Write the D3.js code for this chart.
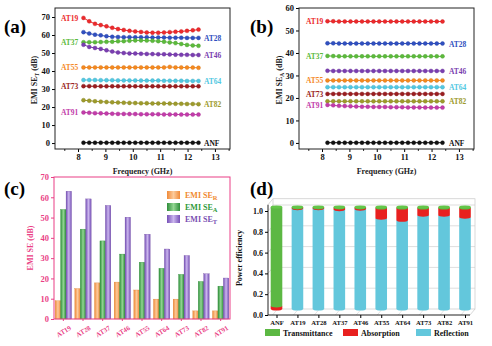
<!DOCTYPE html>
<html>
<head>
<meta charset="utf-8">
<script src="https://cdn.jsdelivr.net/npm/d3@7"></script>
<style>
body { margin: 0; background: #fff; }
svg { display: block; }
text { font-family: "Liberation Serif", "DejaVu Serif", serif; font-weight: bold; }
</style>
</head>
<body>
<svg id="fig" width="492" height="346"></svg>
<script>
// ---- data ----
const freq = [8.2, 8.41, 8.62, 8.83, 9.04, 9.25, 9.46, 9.67, 9.88, 10.09, 10.3, 10.51, 10.72, 10.93, 11.14, 11.35, 11.56, 11.77, 11.98, 12.19, 12.4];
const samples = ["AT19", "AT28", "AT37", "AT46", "AT55", "AT64", "AT73", "AT82", "AT91", "ANF"];
const sampleColors = ["#ec2a2c", "#3050c0", "#5cba3c", "#7a3eb0", "#f5891f", "#52c8e2", "#9a1e20", "#9d9a2c", "#c23caa", "#111111"];
const labelSide = ["left", "right", "left", "right", "left", "right", "left", "right", "left", "right"];

// (a) EMI SE_T
const seT_AT19 = [69.5, 67.6, 66.2, 65.5, 64.8, 64.0, 63.3, 62.8, 62.3, 62.0, 61.7, 61.4, 61.3, 61.3, 61.4, 61.6, 61.8, 62.0, 62.3, 62.6, 63.0];
const seT_AT28 = [61.6, 60.8, 60.2, 59.8, 59.3, 59.0, 58.9, 58.8, 58.8, 58.7, 58.7, 58.7, 58.6, 58.6, 58.6, 58.5, 58.5, 58.5, 58.4, 58.4, 58.4];
const seT_AT37 = [56.0, 56.0, 56.0, 56.1, 56.2, 56.3, 56.5, 56.6, 56.8, 57.0, 57.0, 56.9, 56.8, 56.6, 56.3, 55.9, 55.5, 55.0, 54.5, 54.2, 54.0];
const seT_AT46 = [54.6, 53.4, 52.8, 52.3, 51.5, 50.8, 50.3, 50.0, 49.8, 49.7, 49.6, 49.5, 49.4, 49.3, 49.3, 49.2, 49.1, 49.0, 49.0, 48.9, 48.9];
const seT_AT55 = [42.0, 42.0, 42.0, 42.0, 42.0, 42.0, 42.0, 42.0, 42.0, 42.0, 42.0, 42.0, 42.0, 42.0, 42.0, 42.3, 42.0, 42.0, 41.9, 41.9, 41.8];
const seT_AT64 = [35.0, 35.0, 35.0, 34.9, 34.9, 34.9, 34.8, 34.8, 34.8, 34.8, 34.7, 34.7, 34.7, 34.7, 34.6, 34.6, 34.6, 34.6, 34.5, 34.5, 34.5];
const seT_AT73 = [31.6, 31.6, 31.5, 31.5, 31.5, 31.5, 31.5, 31.5, 31.5, 31.5, 31.5, 31.5, 31.5, 31.5, 31.5, 31.5, 31.5, 31.5, 31.5, 31.5, 31.5];
const seT_AT82 = [23.8, 23.5, 23.2, 23.0, 22.8, 22.6, 22.5, 22.4, 22.3, 22.2, 22.1, 22.1, 22.0, 22.0, 22.0, 21.9, 21.8, 21.8, 21.7, 21.7, 21.6];
const seT_AT91 = [17.0, 16.8, 16.6, 16.5, 16.4, 16.3, 16.2, 16.2, 16.1, 16.1, 16.0, 16.0, 16.0, 16.0, 15.9, 15.9, 15.9, 15.8, 15.8, 15.8, 15.8];
const seT_ANF  = [0.2, 0.2, 0.2, 0.2, 0.2, 0.2, 0.2, 0.2, 0.2, 0.2, 0.2, 0.2, 0.2, 0.2, 0.2, 0.2, 0.2, 0.2, 0.2, 0.2, 0.2];

// (b) EMI SE_A
const seA_AT19 = [54.1, 54.1, 54.0, 54.0, 54.0, 54.0, 54.0, 54.0, 54.0, 54.0, 54.0, 54.0, 54.0, 54.0, 54.0, 54.0, 54.0, 54.0, 54.0, 54.0, 54.0];
const seA_AT28 = [44.3, 44.3, 44.2, 44.2, 44.2, 44.2, 44.2, 44.2, 44.2, 44.2, 44.2, 44.2, 44.2, 44.2, 44.2, 44.2, 44.2, 44.2, 44.2, 44.2, 44.2];
const seA_AT37 = [38.7, 38.6, 38.5, 38.5, 38.5, 38.5, 38.5, 38.5, 38.5, 38.5, 38.5, 38.5, 38.5, 38.5, 38.5, 38.5, 38.5, 38.5, 38.5, 38.5, 38.5];
const seA_AT46 = [32.1, 32.0, 32.0, 32.0, 32.0, 32.0, 32.0, 32.0, 32.0, 32.0, 32.0, 32.0, 32.0, 32.0, 32.0, 32.0, 32.0, 32.0, 32.0, 32.0, 32.0];
const seA_AT55 = [27.8, 27.8, 27.8, 27.8, 27.8, 27.8, 27.8, 27.8, 27.8, 27.8, 27.8, 27.8, 27.8, 27.8, 27.8, 27.8, 27.8, 27.8, 27.8, 27.8, 27.8];
const seA_AT64 = [24.8, 24.8, 24.8, 24.8, 24.8, 24.8, 24.8, 24.8, 24.8, 24.8, 24.8, 24.8, 24.8, 24.8, 24.8, 24.8, 24.8, 24.8, 24.8, 24.8, 24.8];
const seA_AT73 = [21.8, 21.8, 21.8, 21.8, 21.8, 21.8, 21.8, 21.8, 21.8, 21.8, 21.8, 21.8, 21.8, 21.8, 21.8, 21.8, 21.8, 21.8, 21.8, 21.8, 21.8];
const seA_AT82 = [18.5, 18.5, 18.5, 18.5, 18.5, 18.5, 18.5, 18.5, 18.5, 18.5, 18.5, 18.5, 18.5, 18.5, 18.5, 18.5, 18.5, 18.5, 18.5, 18.5, 18.5];
const seA_AT91 = [16.9, 16.7, 16.5, 16.4, 16.3, 16.2, 16.1, 16.1, 16.0, 16.0, 16.0, 15.9, 15.9, 15.9, 15.8, 15.8, 15.8, 15.7, 15.7, 15.7, 15.7];
const seA_ANF  = [0.1, 0.1, 0.1, 0.1, 0.1, 0.1, 0.1, 0.1, 0.1, 0.1, 0.1, 0.1, 0.1, 0.1, 0.1, 0.1, 0.1, 0.1, 0.1, 0.1, 0.1];

// (c) averages
const barCats = ["AT19", "AT28", "AT37", "AT46", "AT55", "AT64", "AT73", "AT82", "AT91"];
const avgSER = [9.0, 15.0, 17.8, 18.2, 14.3, 9.8, 9.8, 4.0, 4.0];
const avgSEA = [54.0, 44.3, 38.5, 32.0, 28.0, 25.0, 22.0, 18.5, 16.2];
const avgSET = [63.0, 59.2, 56.0, 50.2, 41.8, 34.5, 31.3, 22.3, 20.2];

// (d) power coefficients
const powerCats = ["ANF", "AT19", "AT28", "AT37", "AT46", "AT55", "AT64", "AT73", "AT82", "AT91"];
const reflection    = [0.0, 0.985, 0.985, 0.975, 0.98, 0.89, 0.87, 0.92, 0.92, 0.90];
const absorption    = [0.03, 0.007, 0.007, 0.017, 0.012, 0.10, 0.12, 0.07, 0.07, 0.09];
const transmittance = [0.97, 0.008, 0.008, 0.008, 0.008, 0.01, 0.01, 0.01, 0.01, 0.01];

const svg = d3.select("#fig");
svg.append("rect").attr("width", 492).attr("height", 346).attr("fill", "#fff");

function panelLetter(txt, x, y) {
  svg.append("text").attr("x", x).attr("y", y).attr("font-size", 19).text(txt);
}

// ---- line panels (a), (b) ----
function linePanel(x, y, yTicks, seriesList, leftX, rightX, yLabelX, sub) {
  const g = svg.append("g");
  g.append("g").attr("transform", `translate(0,${y.range()[0]})`)
    .call(d3.axisBottom(x).tickValues([8, 9, 10, 11, 12, 13]).tickSize(3).tickPadding(2).tickFormat(d3.format("d")))
    .call(a => a.select(".domain").remove());
  g.append("g").attr("transform", `translate(0,${y.range()[0]})`)
    .call(d3.axisBottom(x).tickValues([7.5, 8.5, 9.5, 10.5, 11.5, 12.5, 13.5]).tickSize(1.8).tickFormat(""))
    .call(a => a.select(".domain").remove());
  g.append("g").attr("transform", `translate(${x.range()[0]},0)`)
    .call(d3.axisLeft(y).tickValues(yTicks).tickSize(3).tickPadding(2).tickFormat(d3.format("d")))
    .call(a => a.select(".domain").remove());
  g.selectAll(".tick text").attr("font-size", 8.5).attr("fill", "#111");
  g.append("rect").attr("x", x.range()[0]).attr("y", y.range()[1])
    .attr("width", x.range()[1] - x.range()[0]).attr("height", y.range()[0] - y.range()[1])
    .attr("fill", "none").attr("stroke", "#222").attr("stroke-width", 1);

  const line = d3.line().x((d, i) => x(freq[i])).y(d => y(d));
  seriesList.forEach((vals, k) => {
    const c = sampleColors[k];
    g.append("path").attr("d", line(vals)).attr("fill", "none").attr("stroke", c).attr("stroke-width", 1);
    g.selectAll(null).data(vals).join("circle")
      .attr("cx", (d, i) => x(freq[i])).attr("cy", d => y(d)).attr("r", 2)
      .attr("fill", c).attr("stroke", d3.color(c).darker(0.4)).attr("stroke-width", 0.4);
    const left = labelSide[k] === "left";
    g.append("text")
      .attr("x", left ? leftX : rightX)
      .attr("y", y(left ? vals[0] : vals[vals.length - 1]) + 3)
      .attr("font-size", 7.5).attr("fill", c).text(samples[k]);
  });

  const cx = (x.range()[0] + x.range()[1]) / 2;
  g.append("text").attr("x", cx).attr("y", 174).attr("text-anchor", "middle")
    .attr("font-size", 8).attr("fill", "#222").text("Frequency (GHz)");
  const yl = g.append("text").attr("transform", `translate(${yLabelX},80) rotate(-90)`)
    .attr("text-anchor", "middle").attr("font-size", 8).attr("fill", "#222");
  yl.append("tspan").text("EMI SE");
  yl.append("tspan").attr("font-size", 5.5).attr("dy", 2).text(sub);
  yl.append("tspan").attr("dy", -2).text(" (dB)");
}

const xA = d3.scaleLinear([7.16, 13.55], [55, 230]);
const yA = d3.scaleLinear([-3.3, 75], [149, 8]);
linePanel(xA, yA, [0, 10, 20, 30, 40, 50, 60, 70],
  [seT_AT19, seT_AT28, seT_AT37, seT_AT46, seT_AT55, seT_AT64, seT_AT73, seT_AT82, seT_AT91, seT_ANF],
  61, 204, 37, "T");

const xB = d3.scaleLinear([7.16, 13.55], [299, 474]);
const yB = d3.scaleLinear([-2.7, 60], [149, 8]);
linePanel(xB, yB, [0, 10, 20, 30, 40, 50, 60],
  [seA_AT19, seA_AT28, seA_AT37, seA_AT46, seA_AT55, seA_AT64, seA_AT73, seA_AT82, seA_AT91, seA_ANF],
  306, 449, 282, "A");

panelLetter("(a)", 4, 33);
panelLetter("(b)", 250, 33);

// ---- bar panel (c) ----
const pink = "#ea3f86";
const defs = svg.append("defs");
function grad(id, dark, light) {
  const lg = defs.append("linearGradient").attr("id", id).attr("x1", 0).attr("x2", 1).attr("y1", 0).attr("y2", 0);
  lg.append("stop").attr("offset", 0).attr("stop-color", dark);
  lg.append("stop").attr("offset", 0.5).attr("stop-color", light);
  lg.append("stop").attr("offset", 1).attr("stop-color", dark);
}
grad("gR", "#f08a38", "#fccb9c");
grad("gA", "#2e8e3a", "#93d693");
grad("gT", "#7650b6", "#cbb6ee");

const barSeries = [
  { key: "R", vals: avgSER, fill: "url(#gR)", text: "#f08a30" },
  { key: "A", vals: avgSEA, fill: "url(#gA)", text: "#2f9a3a" },
  { key: "T", vals: avgSET, fill: "url(#gT)", text: "#7a4fb2" }
];
const xC = d3.scaleBand().domain(barCats).range([54, 230]).paddingInner(0.17).paddingOuter(0.06);
const xSub = d3.scaleBand().domain(["R", "A", "T"]).range([0, xC.bandwidth()]);
const yC = d3.scaleLinear([0, 70], [319, 177]);
const gc = svg.append("g");
barSeries.forEach(s => {
  gc.selectAll(null).data(s.vals).join("rect")
    .attr("x", (d, i) => xC(barCats[i]) + xSub(s.key))
    .attr("y", d => yC(d)).attr("width", xSub.bandwidth()).attr("height", d => yC(0) - yC(d))
    .attr("fill", s.fill).attr("stroke", d3.color(s.text).darker(0.3)).attr("stroke-width", 0.3);
});
const ya = gc.append("g").attr("transform", "translate(54,0)")
  .call(d3.axisLeft(yC).tickValues(d3.range(0, 71, 10)).tickSize(3).tickPadding(2))
  .call(a => a.select(".domain").remove());
ya.selectAll("line").attr("stroke", pink);
ya.selectAll("text").attr("fill", pink).attr("font-size", 8.5);
const xa = gc.append("g").attr("transform", "translate(0,319)")
  .call(d3.axisBottom(xC).tickSize(2).tickPadding(2))
  .call(a => a.select(".domain").remove());
xa.selectAll("line").attr("stroke", pink);
xa.selectAll("text").attr("fill", pink).attr("font-size", 6.8)
  .attr("text-anchor", "end").attr("dy", "0.3em")
  .attr("transform", "translate(5,5) rotate(-32)");
gc.append("rect").attr("x", 54).attr("y", 177).attr("width", 176).attr("height", 142)
  .attr("fill", "none").attr("stroke", pink).attr("stroke-width", 1);
gc.append("text").attr("transform", "translate(33,248) rotate(-90)").attr("text-anchor", "middle")
  .attr("font-size", 8).attr("fill", pink).text("EMI SE (dB)");
const legY = [195, 207, 219];
barSeries.forEach((s, i) => {
  gc.append("rect").attr("x", 167).attr("y", legY[i] - 4).attr("width", 13).attr("height", 8).attr("fill", s.fill);
  const t = gc.append("text").attr("x", 185).attr("y", legY[i] + 3).attr("font-size", 8).attr("fill", s.text);
  t.append("tspan").text("EMI SE");
  t.append("tspan").attr("font-size", 6.5).attr("dy", 2).text(s.key);
});
panelLetter("(c)", 4, 195);

// ---- 3D cylinder panel (d) ----
const gd = svg.append("g");
const yAx = d3.scaleLinear([0, 1], [315, 211]);
const yCyl = d3.scaleLinear([0, 1], [309, 207]);
const xD = d3.scalePoint().domain(powerCats).range([276.5, 465]);
const off = { dx: 5, dy: -6 };
const gridC = "#c8c8c8";
// back wall, floor and left-wall grid
gd.append("rect").attr("x", 268 + off.dx).attr("y", yAx(1.06) + off.dy)
  .attr("width", 475 - 268 - off.dx).attr("height", yAx(0) - yAx(1.06))
  .attr("fill", "none").attr("stroke", gridC).attr("stroke-width", 0.7);
[0.2, 0.4, 0.6, 0.8, 1.0].forEach(v => {
  gd.append("polyline")
    .attr("points", `268,${yAx(v)} ${268 + off.dx},${yAx(v) + off.dy} 475,${yAx(v) + off.dy}`)
    .attr("fill", "none").attr("stroke", gridC).attr("stroke-width", 0.6);
});
gd.append("line").attr("x1", 268).attr("y1", yAx(1.06)).attr("x2", 268 + off.dx).attr("y2", yAx(1.06) + off.dy)
  .attr("stroke", gridC).attr("stroke-width", 0.7);
gd.append("line").attr("x1", 470).attr("y1", yAx(0)).attr("x2", 475).attr("y2", yAx(0) + off.dy)
  .attr("stroke", gridC).attr("stroke-width", 0.7);
powerCats.forEach(c => {
  gd.append("line").attr("x1", xD(c) - 4).attr("y1", yAx(0)).attr("x2", xD(c) + 1).attr("y2", yAx(0) + off.dy)
    .attr("stroke", gridC).attr("stroke-width", 0.5);
});

const segColors = ["#63c7dc", "#e8201f", "#5cb843"];
const rx = 5.8, ry = 1.6;
powerCats.forEach((c, i) => {
  const cx = xD(c);
  const parts = [reflection[i], absorption[i], transmittance[i]];
  let acc = 0;
  parts.forEach((v, k) => {
    if (v <= 0) return;
    const yb = yCyl(acc), yt = yCyl(acc + v);
    gd.append("path")
      .attr("d", `M${cx - rx},${yt} L${cx - rx},${yb} A${rx},${ry} 0 0 0 ${cx + rx},${yb} L${cx + rx},${yt} Z`)
      .attr("fill", segColors[k]);
    acc += v;
  });
  const topK = transmittance[i] > 0 ? 2 : 1;
  gd.append("ellipse").attr("cx", cx).attr("cy", yCyl(acc)).attr("rx", rx).attr("ry", ry)
    .attr("fill", d3.color(segColors[topK]).brighter(0.2));
});

// axes
gd.append("line").attr("x1", 268).attr("y1", yAx(0)).attr("x2", 268).attr("y2", yAx(1.06)).attr("stroke", "#222");
gd.append("line").attr("x1", 268).attr("y1", yAx(0)).attr("x2", 470).attr("y2", yAx(0)).attr("stroke", "#222");
const yda = gd.append("g").attr("transform", "translate(268,0)")
  .call(d3.axisLeft(yAx).tickValues([0, 0.2, 0.4, 0.6, 0.8, 1.0]).tickSize(3).tickPadding(2).tickFormat(d3.format(".1f")))
  .call(a => a.select(".domain").remove());
yda.selectAll("text").attr("font-size", 8).attr("fill", "#111");
const xda = gd.append("g").attr("transform", `translate(0,${yAx(0)})`)
  .call(d3.axisBottom(xD).tickSize(3).tickPadding(2))
  .call(a => a.select(".domain").remove());
xda.selectAll("text").attr("font-size", 6.6).attr("fill", "#111");
gd.append("text").attr("transform", "translate(242,258) rotate(-90)").attr("text-anchor", "middle")
  .attr("font-size", 8).attr("fill", "#111").text("Power efficiency");

const legendItems = ["Transmittance", "Absorption", "Reflection"];
const legSwX = [265, 343, 416];
const legColors = ["#5cb843", "#e8201f", "#63c7dc"];
legendItems.forEach((t, i) => {
  gd.append("rect").attr("x", legSwX[i]).attr("y", 329).attr("width", 15).attr("height", 7).attr("fill", legColors[i]);
  gd.append("text").attr("x", legSwX[i] + 18).attr("y", 336).attr("font-size", 8).attr("fill", "#111").text(t);
});
panelLetter("(d)", 250, 195);
</script>
</body>
</html>
